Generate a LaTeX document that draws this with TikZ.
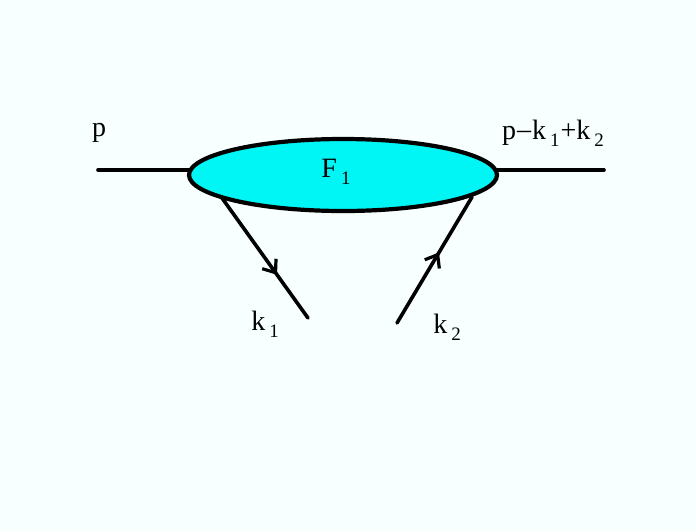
\documentclass[tikz,border=0pt]{standalone}
\usepackage{fontspec}
\setmainfont{Liberation Serif}
\usetikzlibrary{shapes.geometric,arrows.meta,decorations.markings}
\definecolor{bg}{RGB}{248,255,255}
\definecolor{blobfill}{RGB}{0,245,245}
\newcommand{\sbs}[1]{\raisebox{-7pt}{\fontsize{19}{20}\selectfont\kern4pt #1}}
\tikzset{
  lbl/.style={font=\fontsize{28}{30}\selectfont, inner sep=0pt},
  leg/.style={line width=3.6pt, line cap=round},
  midarrow/.style={postaction={decorate}, decoration={markings,
     mark=at position #1 with {\arrow{Straight Barb[length=11pt,width=17pt,line width=3.2pt]}}}}
}
\begin{document}
\begin{tikzpicture}[x=1pt,y=-1pt]
\fill[bg] (0,0) rectangle (696,531);
\useasboundingbox (0,0) rectangle (696,531);
\coordinate (lin) at (98,170);
\coordinate (rout) at (604,170);
\coordinate (k1end) at (308,318);
\coordinate (k2end) at (397,323);
\coordinate (k1start) at (222,198);
\coordinate (k2start) at (472,197);
\coordinate (lj) at (200,170);
\coordinate (rj) at (490,170);
\draw[leg] (lin) -- (lj);
\draw[leg] (rj) -- (rout);
\node[ellipse, draw=black, fill=blobfill, line width=4.2pt, minimum width=308pt, minimum height=72pt, inner sep=0pt] (blob) at (343,175) {};
\draw[leg, midarrow=0.64] (k1start) -- (k1end);
\draw[leg, midarrow=0.56] (k2end) -- (k2start);
\node[lbl] (lp) at (99,133) {p};
\node[lbl] (lF) at (336,172) {F\sbs{1}};
\node[lbl] (lout) at (553,133) {p\kern1pt\raisebox{1pt}{–}\kern1pt k\sbs{1}\kern1pt+k\sbs{2}};
\node[lbl] (lk1) at (265,324) {k\sbs{1}};
\node[lbl] (lk2) at (447,327) {k\sbs{2}};
\end{tikzpicture}
\end{document}
